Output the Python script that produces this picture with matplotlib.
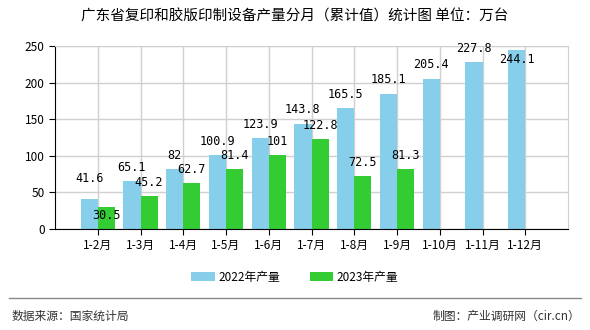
import numpy as np
import matplotlib.pyplot as plt

plt.rcParams['font.family'] = ['Noto Sans CJK SC', 'DejaVu Sans']

months = ["1-2月", "1-3月", "1-4月", "1-5月", "1-6月", "1-7月",
          "1-8月", "1-9月", "1-10月", "1-11月", "1-12月"]
prod_2022 = [41.6, 65.1, 82, 100.9, 123.9, 143.8, 165.5, 185.1, 205.4, 227.8, 244.1]
prod_2023 = [30.5, 45.2, 62.7, 81.4, 101, 122.8, 72.5, 81.3]
labels_2022 = ["41.6", "65.1", "82", "100.9", "123.9", "143.8", "165.5", "185.1", "205.4", "227.8", "244.1"]
labels_2023 = ["30.5", "45.2", "62.7", "81.4", "101", "122.8", "72.5", "81.3"]

blue = "#87CEEB"
green = "#33CC33"

fig = plt.figure(figsize=(5.9, 3.3), dpi=100)
ax = fig.add_axes([55 / 590, 1 - 229 / 330, 513 / 590, 183 / 330])

x = np.arange(1, len(months) + 1)
x23 = np.arange(1, len(prod_2023) + 1)
w = 0.4
ax.bar(x - w / 2, prod_2022, width=w, color=blue, label="2022年产量", zorder=2)
ax.bar(x23 + w / 2, prod_2023, width=w, color=green, label="2023年产量", zorder=2)

mono = ["DejaVu Sans Mono", "DejaVu Sans"]
gap = 10
for i, (xi, v, t) in enumerate(zip(x, prod_2022, labels_2022)):
    y, va = v + gap, "bottom"
    if v + gap + 11 > 250:
        # no room above the axis top: tuck label inside the bar
        y, va = v - 3, "top"
    elif i < len(prod_2023) and abs(v - prod_2023[i]) < 15:
        y = v + gap + 8
    ax.text(xi - w / 2, y, t, ha="center", va=va, fontsize=8.5, family=mono, zorder=3)
for i, (xi, v, t) in enumerate(zip(x23, prod_2023, labels_2023)):
    y, va = v + gap, "bottom"
    if abs(v - prod_2022[i]) < 15:
        y, va = v - 3, "top"
    ax.text(xi + w / 2, y, t, ha="center", va=va, fontsize=8.5, family=mono, zorder=3)

ax.set_xlim(0, 12)
ax.set_ylim(0, 250)
ax.set_yticks(range(0, 251, 50))
ax.set_xticks(x)
ax.set_xticklabels(months, fontsize=8.5)
ax.tick_params(axis='y', labelsize=8.5, length=4, color="#000000")
ax.tick_params(axis='x', length=4)
ax.grid(True, color="#d0d0d0", linewidth=1, zorder=0)
ax.set_axisbelow(True)
for side in ["top", "right"]:
    ax.spines[side].set_color("#d0d0d0")
ax.spines["left"].set_color("#000000")
ax.spines["bottom"].set_color("#000000")

fig.text(0.5, 1 - 17 / 330, "广东省复印和胶版印制设备产量分月（累计值）统计图 单位：万台",
         ha="center", va="center", fontsize=10.5)

fig.legend(loc="center", bbox_to_anchor=(0.5, 1 - 277 / 330), ncol=2, frameon=False,
           fontsize=8.5, handlelength=2.0, handleheight=0.7, handletextpad=0.3,
           columnspacing=2.5)

fig.add_artist(plt.Line2D([9 / 590, 581 / 590], [1 - 298 / 330] * 2,
                          transform=fig.transFigure, color="#888888", linewidth=1))
fig.text(12 / 590, 1 - 316 / 330, "数据来源：国家统计局", ha="left", va="center",
         fontsize=8.5, color="#333333")
fig.text(580 / 590, 1 - 316 / 330, "制图：产业调研网（cir.cn）", ha="right", va="center",
         fontsize=8.5, color="#333333")

fig.savefig("out.png", dpi=100)
